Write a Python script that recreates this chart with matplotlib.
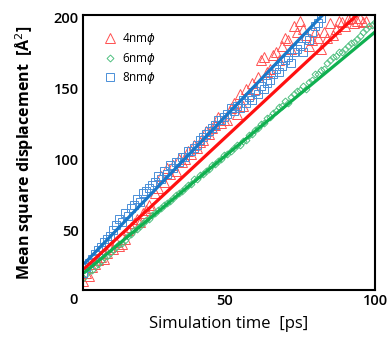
import matplotlib
matplotlib.use("Agg")
import matplotlib.pyplot as plt

# ---- data ----
red_x = list(range(3, 98))
red_y = [14, 20, 18, 24, 26, 29, 31, 30, 34, 38, 37, 42, 39, 40, 44, 50, 52, 55, 58, 56,
         62, 64, 68, 66, 76, 80, 88, 84, 94, 90, 96, 92, 100, 98, 100, 106, 104, 110, 108, 112,
         114, 120, 118, 122, 124, 130, 126, 128, 128, 136, 140, 132, 146, 138, 150, 146, 154, 150, 158, 170,
         172, 162, 164, 174, 176, 170, 180, 186, 184, 178, 194, 190, 198, 192, 188, 180, 184, 190, 186, 178,
         190, 186, 196, 188, 192, 198, 197, 194, 199, 200, 196, 198, 200, 197, 198]

green_x = list(range(3, 101))
green_y = [16, 19, 21, 22, 25, 26, 28, 31, 32, 34, 36, 38, 40, 41, 43, 46, 47, 50, 51, 53,
           55, 57, 58, 61, 62, 64, 66, 68, 69, 71, 73, 75, 76, 78, 80, 82, 83, 86, 86, 89,
           90, 92, 93, 96, 97, 99, 100, 103, 104, 106, 108, 110, 110, 113, 114, 117, 118, 121, 122, 125,
           126, 129, 130, 133, 134, 137, 138, 141, 140, 144, 146, 148, 149, 152, 150, 155, 156, 160, 160, 163,
           164, 168, 170, 172, 173, 176, 176, 178, 180, 182, 183, 185, 187, 190, 192, 194, 195, 197]

blue_x = list(range(3, 83))
blue_y = [20, 24, 27, 30, 33, 36, 38, 42, 44, 46, 50, 54, 58, 56, 62, 60, 66, 68, 72, 70,
          76, 78, 80, 82, 84, 88, 86, 92, 90, 96, 94, 98, 98, 102, 102, 106, 106, 108, 110, 114,
          116, 118, 120, 122, 124, 128, 128, 130, 132, 136, 134, 138, 136, 142, 140, 144, 142, 148, 146, 152,
          150, 154, 156, 160, 164, 162, 166, 170, 172, 168, 176, 178, 180, 176, 186, 184, 190, 194, 196, 200]

# fitted straight lines (start / end points)
red_fit_x = [3.65, 95.0]
red_fit_y = [23.3, 204.0]
green_fit_x = [3.65, 100.0]
green_fit_y = [20.5, 190.0]
blue_fit_x = [3.65, 83.5]
blue_fit_y = [26.9, 204.0]

labels = ["4nm$\\phi$", "6nm$\\phi$", "8nm$\\phi$"]
y_ticks = [50, 100, 150, 200]
x_ticks = [50, 100]

# ---- figure ----
plt.rcParams['font.family'] = ['Open Sans', 'DejaVu Sans']
fig = plt.figure(figsize=(3.89, 3.38), dpi=100)
ax = fig.add_axes([83/389, 1-290/338, 292/389, 275/338])

ax.plot(red_x, red_y, linestyle='none', marker='^', markersize=6.5, markerfacecolor='none',
        markeredgecolor='#ff5050', markeredgewidth=0.7, label=labels[0])
ax.plot(green_x, green_y, linestyle='none', marker='D', markersize=3.5, markerfacecolor='none',
        markeredgecolor='#50c080', markeredgewidth=0.7, label=labels[1])
ax.plot(blue_x, blue_y, linestyle='none', marker='s', markersize=6, markerfacecolor='none',
        markeredgecolor='#4a8fd8', markeredgewidth=0.7, label=labels[2])

ax.plot(red_fit_x, red_fit_y, color='#ff1010', linewidth=2.3)
ax.plot(green_fit_x, green_fit_y, color='#10b050', linewidth=2.3)
ax.plot(blue_fit_x, blue_fit_y, color='#1a78c8', linewidth=2.3)

ax.set_xlim(3, 100)
ax.set_ylim(7.8, 202)
ax.set_xticks(x_ticks)
ax.set_yticks(y_ticks)
ax.tick_params(length=0, labelsize=10.5, pad=3)
for t in ax.get_xticklabels() + ax.get_yticklabels():
    t.set_fontweight('semibold')
ax.text(-0.031, -0.038, "0", transform=ax.transAxes, ha='center', va='center',
        fontsize=10.5, fontweight='semibold')

for s in ax.spines.values():
    s.set_linewidth(1.5)
    s.set_color('black')

ax.set_xlabel("Simulation time  [ps]", fontsize=12, labelpad=6)
ax.set_ylabel("Mean square displacement  [Å$^2$]", fontsize=11.5, fontweight='bold', labelpad=13)

leg = ax.legend(loc='upper left', bbox_to_anchor=(0.04, 0.98), frameon=False, fontsize=8.5,
                handlelength=0.8, handletextpad=0.6, labelspacing=0.3)

fig.savefig("out.png", dpi=100)
